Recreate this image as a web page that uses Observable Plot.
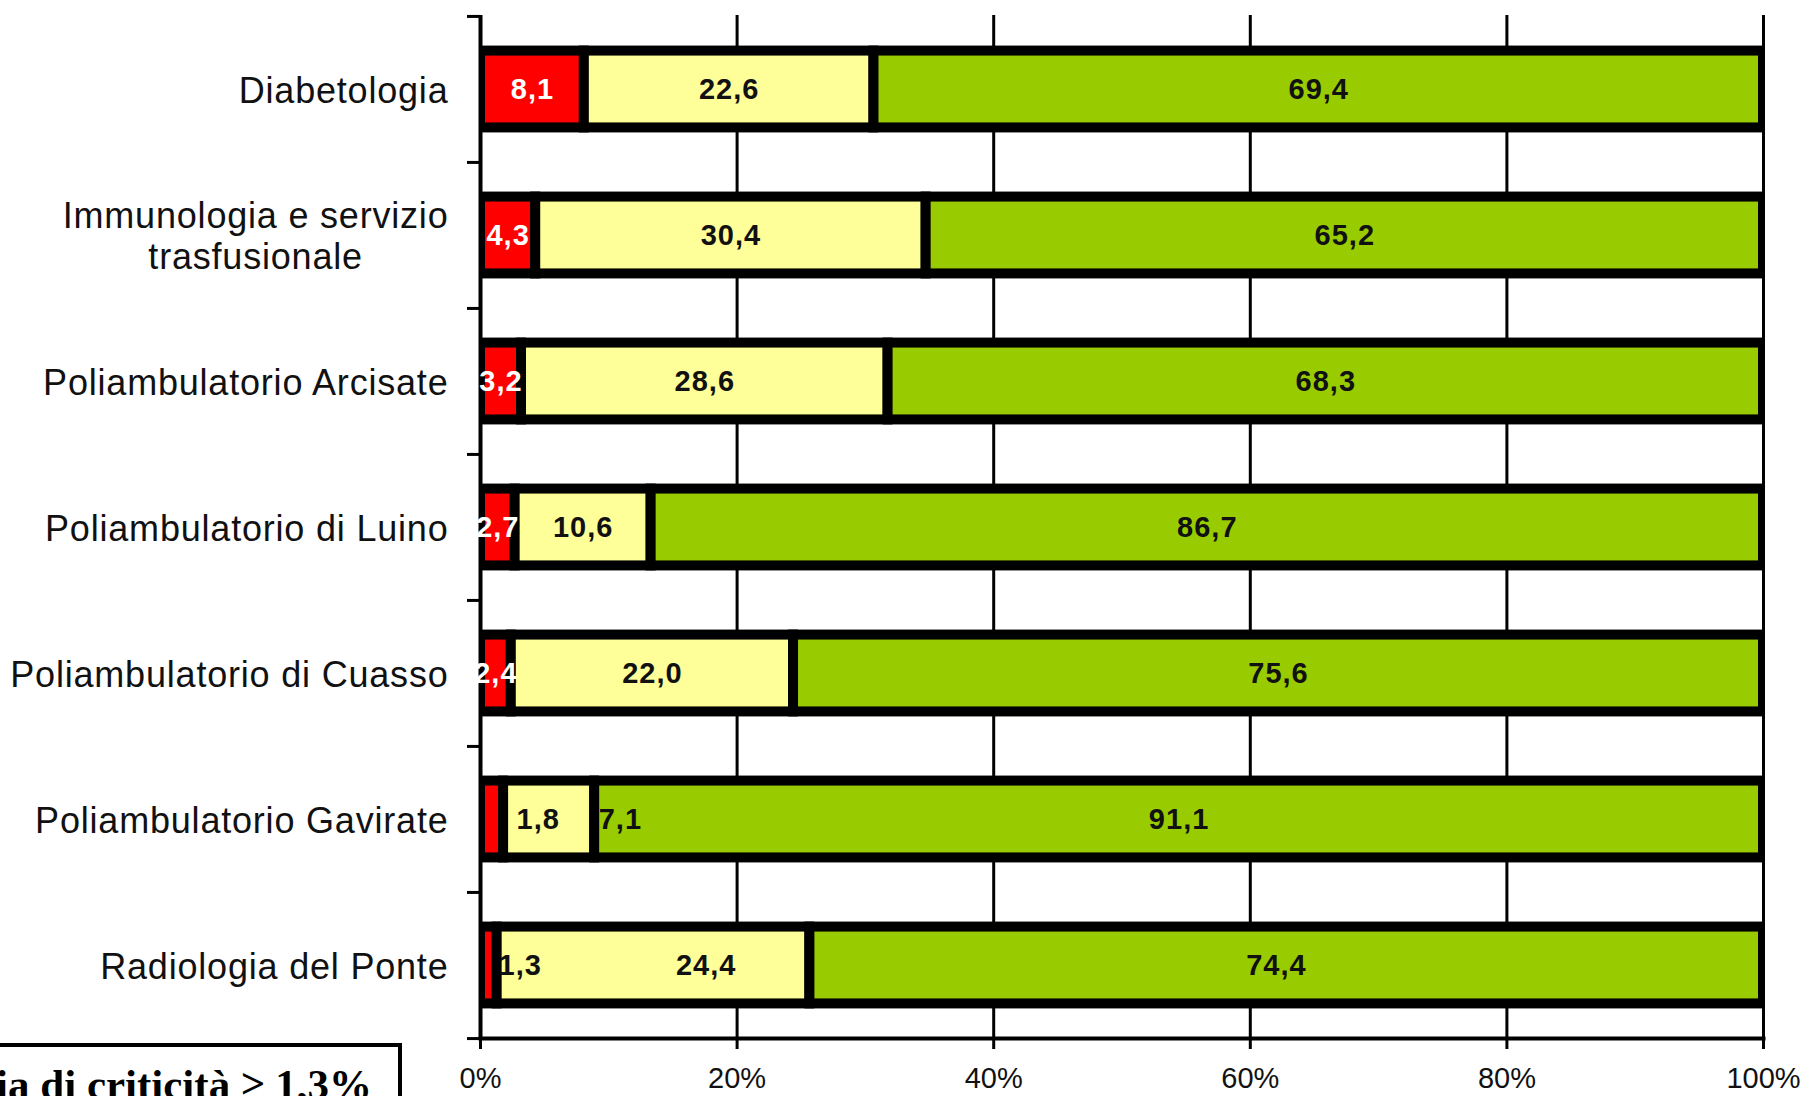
<!DOCTYPE html>
<html>
<head>
<meta charset="utf-8">
<script src="https://cdn.jsdelivr.net/npm/d3@7"></script>
<script src="https://cdn.jsdelivr.net/npm/@observablehq/plot@0.6"></script>
<style>
  html, body { margin: 0; padding: 0; background: #fff; overflow: hidden; }
  #wrap { position: relative; width: 1809px; height: 1096px; overflow: hidden; background: #fff; }
  #chart { position: absolute; left: 0; top: 0; }
  #note {
    position: absolute; left: -220px; top: 1043px; width: 622px; height: 80px;
    box-sizing: border-box; border: 4px solid #000; background: #fff;
  }
  #noteText {
    position: absolute; right: calc(100% - 372px); top: 1063px; white-space: nowrap;
    font-family: "Liberation Serif", "Times New Roman", serif; font-weight: bold; font-size: 43px;
    line-height: 1; color: #000;
  }
</style>
</head>
<body>
<div id="wrap">
  <div id="chart"></div>
  <div id="note"></div>
  <div id="noteText">Soglia di criticità ≥ 1,3%</div>
</div>
<script>
// ---- data ----
const categories = [
  "Diabetologia",
  "Immunologia e servizio\ntrasfusionale",
  "Poliambulatorio Arcisate",
  "Poliambulatorio di Luino",
  "Poliambulatorio di Cuasso",
  "Poliambulatorio Gavirate",
  "Radiologia del Ponte"
];
const redValues    = [8.1, 4.3, 3.2, 2.7, 2.4, 1.8, 1.3];
const yellowValues = [22.6, 30.4, 28.6, 10.6, 22.0, 7.1, 24.4];
const greenValues  = [69.4, 65.2, 68.3, 86.7, 75.6, 91.1, 74.4];
const seriesNames  = ["rosso", "giallo", "verde"];
const seriesColors = ["#ff0000", "#ffff99", "#99cc00"];
const xTicks = [0, 20, 40, 60, 80, 100];

// ---- layout ----
const W = 1809, H = 1096;
const mL = 480, mR = 46, mT = 15, mB = 58;
const step = (H - mT - mB) / categories.length;
const barH = 77;
const inset = (step - barH) / 2;

// labels moved off-centre in the original (in percent units)
const labelNudge = {
  "Poliambulatorio Gavirate|rosso": 3.6,
  "Poliambulatorio Gavirate|giallo": 5.55,
  "Radiologia del Ponte|rosso": 2.45,
  "Radiologia del Ponte|giallo": 4.1,
  "Radiologia del Ponte|verde": -0.8
};

const seriesValues = [redValues, yellowValues, greenValues];
const rows = [];
categories.forEach((cat, i) => {
  const total = redValues[i] + yellowValues[i] + greenValues[i];
  let acc = 0;
  seriesNames.forEach((s, k) => {
    const v = seriesValues[k][i];
    const x1 = acc / total * 100;
    acc += v;
    const x2 = acc / total * 100;
    const nudge = labelNudge[cat + "|" + s] || 0;
    rows.push({
      cat, series: s, value: v, x1, x2,
      pos: (x1 + x2) / 2 + nudge,
      label: v.toFixed(1).replace(".", ","),
      white: s === "rosso" && nudge === 0
    });
  });
});

const fmt = d => d + "%";

const chart = Plot.plot({
  width: W, height: H,
  marginLeft: mL, marginRight: mR, marginTop: mT, marginBottom: mB,
  style: { fontFamily: "'Liberation Sans', Arial, sans-serif", background: "transparent", color: "#111" },
  x: { domain: [0, 100], axis: null },
  y: { domain: categories, padding: 0, axis: null },
  color: { domain: seriesNames, range: seriesColors },
  marks: [
    Plot.ruleX(xTicks.filter(d => d > 0), { stroke: "#000", strokeWidth: 3 }),
    Plot.barX(rows, {
      x1: "x1", x2: "x2", y: "cat", fill: "series",
      stroke: "#000", strokeWidth: 10, insetTop: inset, insetBottom: inset, clip: true
    }),
    Plot.ruleX([0], { stroke: "#000", strokeWidth: 4 }),
    Plot.frame({ anchor: "bottom", stroke: "#000", strokeWidth: 4 }),
    Plot.text(rows.filter(d => d.white), {
      x: "pos", y: "cat", text: "label", fill: "#fff",
      fontSize: 29, fontWeight: "bold"
    }),
    Plot.text(rows.filter(d => !d.white), {
      x: "pos", y: "cat", text: "label", fill: "#111",
      fontSize: 29, fontWeight: "bold"
    }),
    Plot.axisX({
      ticks: xTicks, tickFormat: fmt, tickSize: 11, tickPadding: 18,
      fontSize: 29, strokeWidth: 3, stroke: "#000", fill: "#111", label: null
    }),
    Plot.axisY({
      tickSize: 13, tickFormat: () => "", dy: -step / 2, strokeWidth: 3, stroke: "#000", label: null
    }),
    Plot.axisY({
      ticks: [categories[categories.length - 1]], tickSize: 13, tickFormat: () => "",
      dy: step / 2, strokeWidth: 3, stroke: "#000", label: null
    }),
    Plot.axisY({
      tickSize: 0, tickPadding: 32, fontSize: 36, lineHeight: 1.13, fill: "#111", label: null
    })
  ]
});

document.getElementById("chart").appendChild(chart);

const catSet = new Set(categories.map(c => c.replace(/\n/g, "")));
const labelSet = new Set(rows.map(d => d.label));
chart.querySelectorAll("text").forEach(t => {
  const s = t.textContent;
  if (catSet.has(s)) t.style.letterSpacing = "0.8px";
  else if (labelSet.has(s)) t.style.letterSpacing = "1px";
});

// centre multi-line category labels as a block (as in the original)
chart.querySelectorAll("text").forEach(t => {
  const spans = t.querySelectorAll("tspan");
  if (spans.length > 1) {
    const w = t.getBBox().width;
    t.setAttribute("text-anchor", "middle");
    spans.forEach(s => s.setAttribute("x", -w / 2));
  }
});
</script>
</body>
</html>
